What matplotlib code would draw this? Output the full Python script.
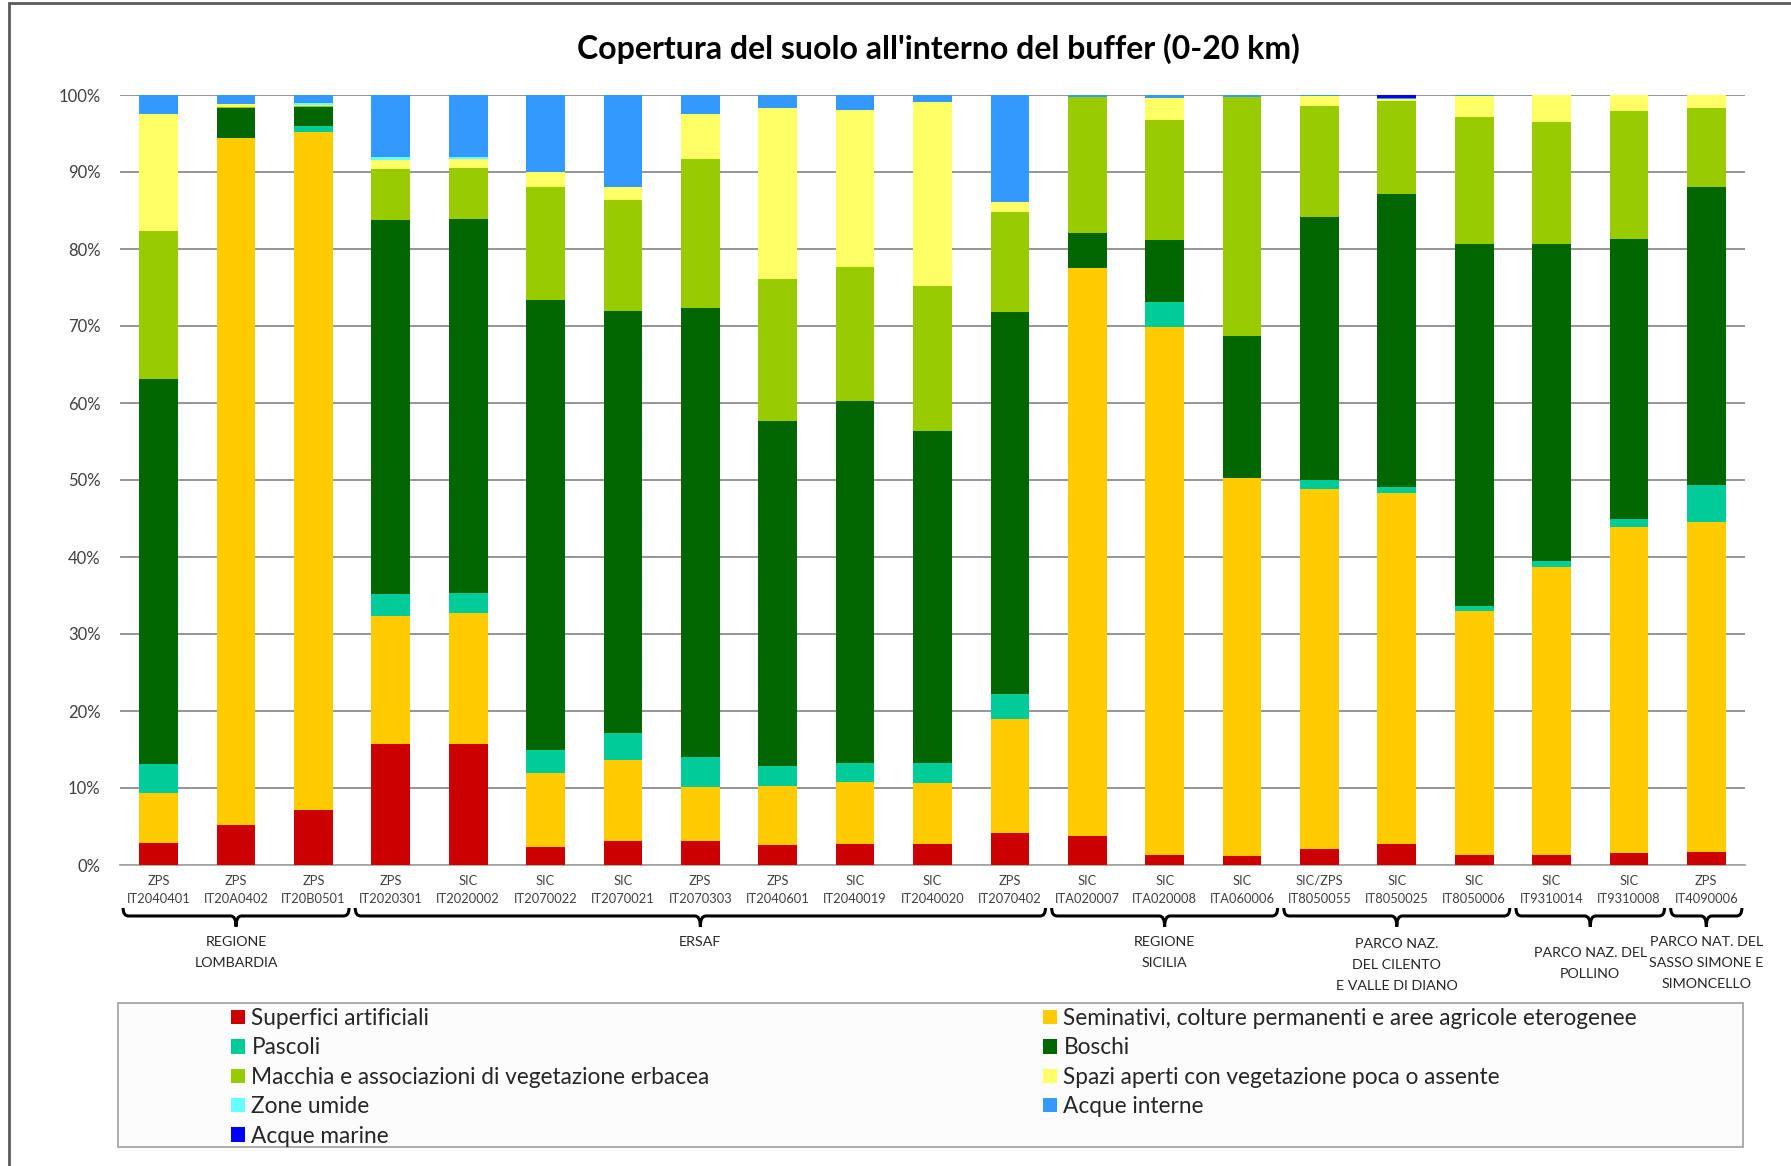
import matplotlib
matplotlib.use('Agg')
import matplotlib.pyplot as plt
import numpy as np
from matplotlib.patches import Patch, Rectangle, PathPatch
from matplotlib.path import Path
import matplotlib.transforms as mtransforms

plt.rcParams['font.family'] = ['Lato', 'DejaVu Sans']

# ---------------- data ----------------
site_types = ['ZPS', 'ZPS', 'ZPS', 'ZPS', 'SIC', 'SIC', 'SIC', 'ZPS', 'ZPS', 'SIC', 'SIC',
              'ZPS', 'SIC', 'SIC', 'SIC', 'SIC/ZPS', 'SIC', 'SIC', 'SIC', 'SIC', 'ZPS']
site_codes = ['IT2040401', 'IT20A0402', 'IT20B0501', 'IT2020301', 'IT2020002', 'IT2070022',
              'IT2070021', 'IT2070303', 'IT2040601', 'IT2040019', 'IT2040020', 'IT2070402',
              'ITA020007', 'ITA020008', 'ITA060006', 'IT8050055', 'IT8050025', 'IT8050006',
              'IT9310014', 'IT9310008', 'IT4090006']

categories = ['Superfici artificiali',
              'Seminativi, colture permanenti e aree agricole eterogenee',
              'Pascoli',
              'Boschi',
              'Macchia e associazioni di vegetazione erbacea',
              'Spazi aperti con vegetazione poca o assente',
              'Zone umide',
              'Acque interne',
              'Acque marine']

superfici_artificiali = [2.85, 5.15, 7.1, 15.7, 15.7, 2.3, 3.15, 3.15, 2.55, 2.7, 2.7,
                         4.2, 3.75, 1.3, 1.15, 2.1, 2.7, 1.35, 1.35, 1.5, 1.7]
seminativi = [6.55, 89.25, 88.05, 16.7, 17.0, 9.7, 10.45, 6.95, 7.75, 8.1, 7.9,
              14.8, 73.75, 68.6, 49.05, 46.7, 45.6, 31.65, 37.35, 42.4, 42.9]
pascoli = [3.7, 0.0, 0.85, 2.8, 2.6, 3.0, 3.5, 3.9, 2.5, 2.4, 2.6,
           3.2, 0.0, 3.2, 0.0, 1.2, 0.8, 0.6, 0.8, 1.0, 4.7]
boschi = [50.0, 3.95, 2.4, 48.6, 48.6, 58.4, 54.8, 58.3, 44.8, 47.1, 43.15,
          49.6, 4.6, 8.1, 18.5, 34.1, 38.0, 47.0, 41.2, 36.4, 38.7]
macchia = [19.3, 0.15, 0.2, 6.55, 6.6, 14.6, 14.5, 19.4, 18.5, 17.3, 18.85,
           13.0, 17.7, 15.55, 31.1, 14.5, 12.15, 16.5, 15.8, 16.6, 10.35]
spazi_aperti = [15.1, 0.3, 0.1, 1.2, 1.2, 2.0, 1.6, 5.8, 22.25, 20.45, 23.9,
                1.3, 0.0, 2.8, 0.0, 1.3, 0.25, 2.8, 3.45, 2.1, 1.65]
zone_umide = [0.0, 0.0, 0.3, 0.35, 0.3, 0.0, 0.0, 0.0, 0.0, 0.0, 0.0,
              0.0, 0.0, 0.0, 0.0, 0.0, 0.0, 0.0, 0.0, 0.0, 0.0]
acque_interne = [2.5, 1.2, 1.0, 8.1, 8.0, 10.0, 12.0, 2.5, 1.65, 1.95, 0.9,
                 13.9, 0.2, 0.45, 0.2, 0.1, 0.1, 0.1, 0.05, 0.0, 0.0]
acque_marine = [0.0, 0.0, 0.0, 0.0, 0.0, 0.0, 0.0, 0.0, 0.0, 0.0, 0.0,
                0.0, 0.0, 0.0, 0.0, 0.0, 0.4, 0.0, 0.0, 0.0, 0.0]

series = [superfici_artificiali, seminativi, pascoli, boschi, macchia,
          spazi_aperti, zone_umide, acque_interne, acque_marine]
colors = ['#CC0000', '#FFCC00', '#00CC99', '#006600', '#99CC00',
          '#FFFF66', '#66FFFF', '#3399FF', '#0000FF']

group_labels = ['REGIONE\nLOMBARDIA', 'ERSAF', 'REGIONE\nSICILIA',
                'PARCO NAZ.\nDEL CILENTO\nE VALLE DI DIANO', 'PARCO NAZ. DEL\nPOLLINO',
                'PARCO NAT. DEL\nSASSO SIMONE E\nSIMONCELLO']
group_first = [0, 3, 12, 15, 18, 20]
group_last = [2, 11, 14, 17, 19, 20]

title = "Copertura del suolo all'interno del buffer (0-20 km)"

# ---------------- figure ----------------
W, H = 1791, 1166
fig = plt.figure(figsize=(W / 100, H / 100), dpi=100)
ax = fig.add_axes([120 / W, 1 - 865 / H, (1745 - 120) / W, (865 - 95) / H])

n = len(site_codes)
x = np.arange(n)
bottom = np.zeros(n)
for vals, col, lab in zip(series, colors, categories):
    vals = np.asarray(vals, dtype=float)
    ax.bar(x, vals, 0.5, bottom=bottom, color=col, label=lab, zorder=3)
    bottom += vals

ax.set_xlim(-0.5, n - 0.5)
ax.set_ylim(0, 100)
ax.set_yticks(np.arange(0, 101, 10))
ax.set_yticklabels([f'{v}%' for v in range(0, 101, 10)], fontsize=12, color='#404040')
ax.yaxis.grid(True, color='#8c8c8c', linewidth=1.3, zorder=0)
ax.set_axisbelow(True)
for s in ['left', 'right', 'top']:
    ax.spines[s].set_visible(False)
ax.spines['bottom'].set_color('#a6a6a6')
ax.spines['bottom'].set_linewidth(1.3)
ax.tick_params(axis='y', length=0, pad=14)
ax.tick_params(axis='x', length=0, pad=7)
ax.set_xticks(x)
ax.set_xticklabels([f'{t}\n{c}' for t, c in zip(site_types, site_codes)],
                   fontsize=9.3, color='#404040', linespacing=1.6)

# brackets + group labels
trans = mtransforms.blended_transform_factory(ax.transData, ax.transAxes)
yt, yl, yb = -0.0558, -0.0662, -0.080
r = 0.07
label_tops = [-0.092, -0.092, -0.092, -0.095, -0.106, -0.092]
for s, e, lab, ytop in zip(group_first, group_last, group_labels, label_tops):
    x0 = s - 0.5 + 0.04
    x1 = e + 0.5 - 0.04
    c = (s + e) / 2
    verts = [(x0, yt), (x0, yl), (x0 + r, yl), (c - r, yl), (c, yl), (c, yb),
             (c, yl), (c + r, yl), (x1 - r, yl), (x1, yl), (x1, yt)]
    codes = [Path.MOVETO, Path.CURVE3, Path.CURVE3, Path.LINETO, Path.CURVE3, Path.CURVE3,
             Path.CURVE3, Path.CURVE3, Path.LINETO, Path.CURVE3, Path.CURVE3]
    ax.add_patch(PathPatch(Path(verts, codes), fill=False, lw=2.2, edgecolor='black',
                           transform=trans, clip_on=False))
    ax.text(c, ytop, lab, transform=trans, ha='center', va='top', fontsize=10.3,
            color='#262626', linespacing=1.9, multialignment='center')

# title
fig.text(938 / W, 1 - 49 / H, title, ha='center', va='center', fontsize=23,
         fontweight='bold', color='black')

# legend box
fig.patches.append(Rectangle((118 / W, 1 - 1147 / H), (1743 - 118) / W, (1147 - 1003) / H,
                             transform=fig.transFigure, facecolor='#fcfcfc',
                             edgecolor='#a6a6a6', linewidth=1.3, zorder=0))
handles = [Patch(facecolor=c, edgecolor='none', label=l) for c, l in zip(colors, categories)]
col1 = [handles[i] for i in (0, 2, 4, 6, 8)]
col2 = [handles[i] for i in (1, 3, 5, 7)]
for hs, xa in ((col1, 231 / W), (col2, 1043 / W)):
    fig.legend(handles=hs, loc='upper left', bbox_to_anchor=(xa, 1 - 1008 / H),
               frameon=False, borderpad=0, borderaxespad=0, fontsize=16.3,
               handlelength=0.6, handleheight=0.6, handletextpad=0.3,
               labelspacing=0.37, labelcolor='#262626')

# outer border
fig.patches.append(Rectangle((9 / W, -0.02), 1.1, 1.02 - 3.5 / H, transform=fig.transFigure,
                             fill=False, edgecolor='#595959', linewidth=2))

fig.savefig('out.png', dpi=100)
